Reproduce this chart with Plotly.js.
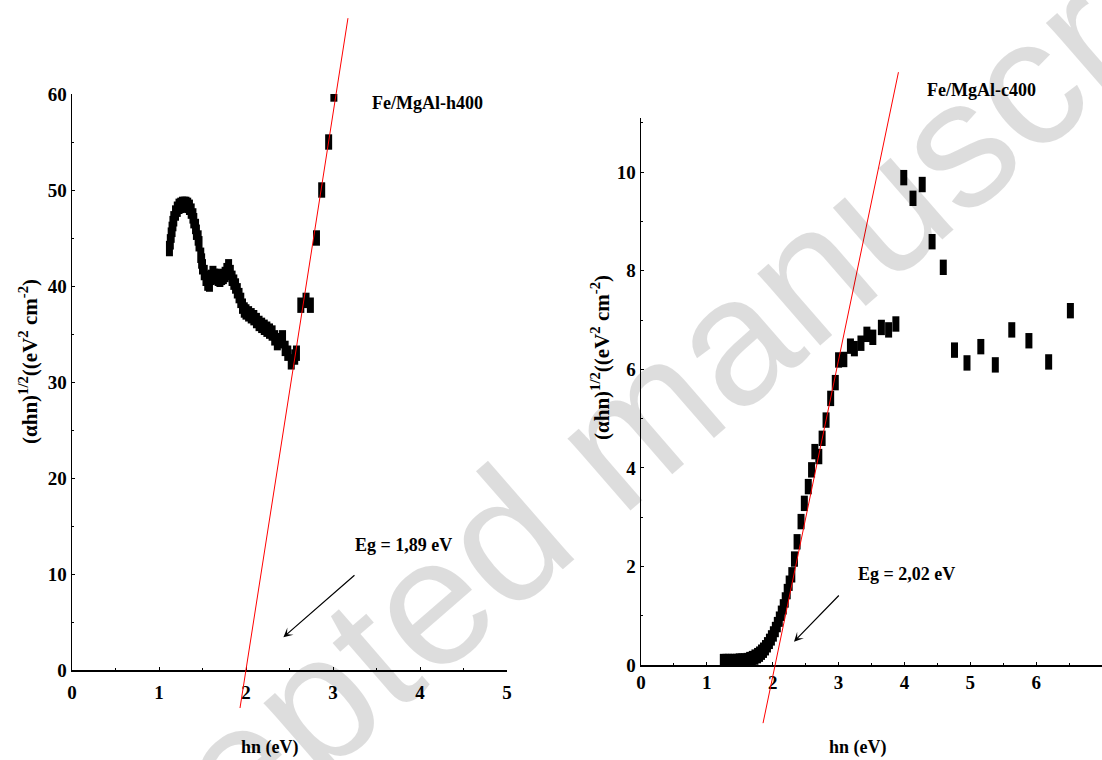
<!DOCTYPE html>
<html>
<head>
<meta charset="utf-8">
<script src="https://cdn.plot.ly/plotly-3.0.1.min.js"></script>
<style>
html, body { margin: 0; padding: 0; background: #ffffff; }
#chart { width: 1102px; height: 760px; }
</style>
</head>
<body>
<div id="chart"></div>
<script>
// ---------- data ----------
const sampleLabels = ['Fe/MgAl-h400', 'Fe/MgAl-c400'];
const gapLabels = ['Eg = 1,89 eV', 'Eg = 2,02 eV'];
const xTitle = 'hn (eV)';
const yTitle = '(\u03b1hn)<sup>1/2</sup>((eV<sup>2</sup> cm<sup>-2</sup>)';
const watermarkText = 'Accepted manuscript';

// left panel: Fe/MgAl-h400
const leftX = [1.12, 1.13, 1.14, 1.15, 1.16, 1.17, 1.19, 1.21, 1.23, 1.25, 1.27, 1.29, 1.31, 1.33, 1.35,
  1.37, 1.39, 1.40, 1.42, 1.43, 1.45, 1.46, 1.48, 1.49, 1.50, 1.52, 1.54, 1.56, 1.58, 1.60, 1.62, 1.64,
  1.66, 1.68, 1.70, 1.72, 1.74, 1.76, 1.78, 1.80, 1.82, 1.84, 1.86, 1.88, 1.90, 1.92, 1.94, 1.96, 1.98,
  2.00, 2.03, 2.06, 2.09, 2.12, 2.15, 2.18, 2.21, 2.24, 2.27, 2.30, 2.33, 2.36, 2.39, 2.42, 2.45, 2.48,
  2.52, 2.56, 2.58, 2.63, 2.69, 2.74, 2.81, 2.87, 2.95, 3.01];
const leftY = [43.9, 44.6, 45.3, 45.9, 46.5, 47.0, 47.6, 48.0, 48.3, 48.4, 48.5, 48.5, 48.5, 48.4, 48.2,
  47.8, 47.3, 46.8, 46.2, 45.6, 45.0, 44.4, 43.2, 42.6, 42.0, 41.4, 40.8, 40.3, 40.2, 40.9, 41.3, 41.0,
  41.0, 40.8, 40.7, 40.9, 41.0, 41.2, 41.6, 42.0, 41.4, 40.8, 40.4, 40.0, 39.5, 39.0, 38.5, 37.9, 37.5,
  37.3, 37.1, 36.9, 36.7, 36.4, 36.1, 35.9, 35.7, 35.5, 35.3, 35.1, 34.6, 34.1, 34.3, 34.6, 33.5, 33.0,
  32.1, 32.6, 33.0, 38.0, 38.5, 38.0, 45.0, 50.0, 55.0, 60.0];

// right panel: Fe/MgAl-c400
const rightX = [1.25, 1.29, 1.33, 1.37, 1.41, 1.45, 1.49, 1.53, 1.57, 1.61, 1.65, 1.69, 1.73, 1.77, 1.80,
  1.83, 1.86, 1.89, 1.92, 1.95, 1.98, 2.01, 2.04, 2.07, 2.10, 2.13, 2.16, 2.19, 2.22, 2.25, 2.29, 2.33,
  2.37, 2.43, 2.48, 2.54, 2.59, 2.64, 2.70, 2.75, 2.81, 2.88, 2.95, 3.00, 3.08, 3.18, 3.24, 3.34, 3.43,
  3.52, 3.65, 3.76, 3.87, 3.99, 4.13, 4.27, 4.42, 4.59, 4.76, 4.95, 5.16, 5.38, 5.63, 5.89, 6.19, 6.52];
const rightY = [0.07, 0.07, 0.07, 0.07, 0.07, 0.07, 0.08, 0.08, 0.08, 0.09, 0.11, 0.13, 0.16, 0.19, 0.22,
  0.26, 0.30, 0.35, 0.41, 0.48, 0.55, 0.63, 0.72, 0.82, 0.93, 1.05, 1.18, 1.32, 1.49, 1.66, 1.83, 2.15,
  2.50, 2.91, 3.28, 3.62, 3.96, 4.33, 4.23, 4.60, 4.97, 5.41, 5.73, 6.19, 6.20, 6.47, 6.42, 6.53, 6.71,
  6.65, 6.85, 6.80, 6.92, 9.89, 9.47, 9.75, 8.59, 8.07, 6.39, 6.13, 6.46, 6.09, 6.80, 6.58, 6.15, 7.19];

// red tangent lines (end points)
const leftFitX = [1.931, 3.172];
const leftFitY = [-3.96, 67.9];
const rightFitX = [1.853, 3.909];
const rightFitY = [-1.18, 12.03];

// arrows: [tailX, tailY, headX, headY] in data units
const leftArrow = [3.264, 10.0, 2.43, 3.41];
const rightArrow = [3.026, 1.44, 2.323, 0.473];

// ---------- layout ----------
const SERIF = 'Liberation Serif, Times New Roman, serif';
const tickFont = { family: SERIF, size: 19, color: '#000000', weight: 'bold' };

const leftDom = { x: [72 / 1102, 507 / 1102], y: [1 - 670 / 760, 1 - 94 / 760] };
const rightDom = { x: [641 / 1102, 1.0], y: [1 - 665 / 760, 1 - 118 / 760] };
const leftRange = { x: [0, 5], y: [0, 60] };
const rightRange = { x: [0, 7], y: [0, 11.1] };

function extendDomain(dom, rng, lo, hi) {
  const s = (dom[1] - dom[0]) / (rng[1] - rng[0]);
  return [dom[0] + (lo - rng[0]) * s, dom[0] + (hi - rng[0]) * s];
}
const leftLineRange = [Math.min(...leftFitY) - 0.3, Math.max(...leftFitY) + 0.3];
const rightLineRange = [Math.min(...rightFitY) - 0.1, Math.max(...rightFitY) + 0.1];

function axis(extra) {
  return Object.assign({
    showline: true, linecolor: '#000000', linewidth: 1.5,
    ticks: 'inside', ticklen: 3, tickwidth: 1, tickcolor: '#000000',
    showgrid: false, zeroline: false, tickfont: tickFont,
    automargin: false, fixedrange: true
  }, extra);
}
function hidden(extra) {
  return Object.assign({ visible: false, showgrid: false, zeroline: false, fixedrange: true }, extra);
}

const markerStyle = { symbol: 'line-ns', size: 11, color: '#000000', line: { color: '#000000', width: 7 } };

const traces = [
  { type: 'scatter', mode: 'markers', x: leftX, y: leftY, xaxis: 'x', yaxis: 'y', marker: markerStyle, hoverinfo: 'x+y' },
  { type: 'scatter', mode: 'markers', x: rightX, y: rightY, xaxis: 'x2', yaxis: 'y2', marker: markerStyle, hoverinfo: 'x+y' },
  { type: 'scatter', mode: 'lines', x: leftFitX, y: leftFitY, xaxis: 'x3', yaxis: 'y3', line: { color: '#ff0000', width: 1 }, hoverinfo: 'skip' },
  { type: 'scatter', mode: 'lines', x: rightFitX, y: rightFitY, xaxis: 'x4', yaxis: 'y4', line: { color: '#ff0000', width: 1 }, hoverinfo: 'skip' }
];

const labelFont = { family: SERIF, size: 18, color: '#000000', weight: 'bold' };
const yTitleFont = { family: SERIF, size: 21, color: '#000000', weight: 'bold' };

function note(text, px, py, font, extra) {
  return Object.assign({ text: text, xref: 'paper', yref: 'paper', x: px / 1102, y: 1 - py / 760,
    xanchor: 'center', yanchor: 'middle', showarrow: false, font: font }, extra || {});
}

const annotations = [
  note(watermarkText, 610, 445,
    { family: 'Liberation Sans, Arial, sans-serif', size: 181, color: 'rgba(0,0,0,0.135)' }, { textangle: -41 }),
  note(sampleLabels[0], 428, 103, labelFont),
  note(sampleLabels[1], 981, 90, labelFont),
  note(gapLabels[0], 403, 545, labelFont),
  note(gapLabels[1], 906, 574, labelFont),
  note(xTitle, 270, 747, labelFont),
  note(xTitle, 858, 747, labelFont),
  note(yTitle, 28, 362, yTitleFont, { textangle: -90 }),
  note(yTitle, 600, 358, yTitleFont, { textangle: -90 }),
  { text: '', xref: 'x', yref: 'y', axref: 'x', ayref: 'y', x: leftArrow[2], y: leftArrow[3], ax: leftArrow[0], ay: leftArrow[1],
    showarrow: true, arrowhead: 3, arrowsize: 1.3, arrowwidth: 1.2, arrowcolor: '#000000' },
  { text: '', xref: 'x2', yref: 'y2', axref: 'x2', ayref: 'y2', x: rightArrow[2], y: rightArrow[3], ax: rightArrow[0], ay: rightArrow[1],
    showarrow: true, arrowhead: 3, arrowsize: 1.3, arrowwidth: 1.2, arrowcolor: '#000000' }
];

const layout = {
  width: 1102, height: 760,
  margin: { l: 0, r: 0, t: 0, b: 0, pad: 0 },
  paper_bgcolor: '#ffffff', plot_bgcolor: 'rgba(0,0,0,0)',
  showlegend: false,
  hovermode: false,
  xaxis: axis({ domain: leftDom.x, range: leftRange.x, anchor: 'y', dtick: 1, tick0: 0, ticklabelstandoff: 5,
    minor: { dtick: 0.5, ticks: 'inside', ticklen: 2, tickcolor: '#000000', showgrid: false } }),
  yaxis: axis({ domain: leftDom.y, range: leftRange.y, anchor: 'x', dtick: 10, tick0: 0,
    minor: { dtick: 5, ticks: 'inside', ticklen: 2, tickcolor: '#000000', showgrid: false } }),
  xaxis2: axis({ domain: rightDom.x, range: rightRange.x, anchor: 'y2', dtick: 1, tick0: 0, ticklabelstandoff: 0,
    minor: { dtick: 0.5, ticks: 'inside', ticklen: 2, tickcolor: '#000000', showgrid: false } }),
  yaxis2: axis({ domain: rightDom.y, range: rightRange.y, anchor: 'x2', dtick: 2, tick0: 0,
    minor: { dtick: 1, ticks: 'inside', ticklen: 2, tickcolor: '#000000', showgrid: false } }),
  xaxis3: hidden({ domain: leftDom.x, range: leftRange.x, anchor: 'y3' }),
  yaxis3: hidden({ domain: extendDomain(leftDom.y, leftRange.y, leftLineRange[0], leftLineRange[1]), range: leftLineRange, anchor: 'x3' }),
  xaxis4: hidden({ domain: rightDom.x, range: rightRange.x, anchor: 'y4' }),
  yaxis4: hidden({ domain: extendDomain(rightDom.y, rightRange.y, rightLineRange[0], rightLineRange[1]), range: rightLineRange, anchor: 'x4' }),
  annotations: annotations
};

Plotly.newPlot('chart', traces, layout, { displayModeBar: false, staticPlot: true });
</script>
</body>
</html>
